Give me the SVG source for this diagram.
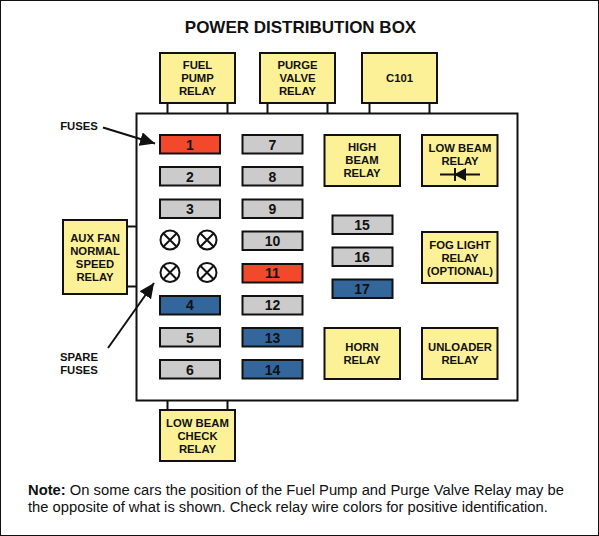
<svg xmlns="http://www.w3.org/2000/svg" width="599" height="536" viewBox="0 0 599 536">
<style>
text{font-family:"Liberation Sans",Arial,sans-serif;font-weight:700;fill:#111;text-anchor:middle}
.t{font-size:11.300px}
.f{font-size:14px}
.r{fill:#fdf198;stroke:#111;stroke-width:2}
.g{fill:#cbcbcb;stroke:#111;stroke-width:2}
.e{fill:#f2492c;stroke:#111;stroke-width:2}
.b{fill:#33669b;stroke:#111;stroke-width:2}
.c{fill:none;stroke:#111;stroke-width:2}
.n{font-size:14.760px;text-anchor:start;font-weight:400}
</style>
<defs>
<marker id="ah" markerUnits="userSpaceOnUse" markerWidth="16" markerHeight="14" refX="15" refY="7" orient="auto"><path d="M0 0L15 7L0 14Z" fill="#111"/></marker>
<g id="x"><circle r="9.500" fill="#fff" stroke="#111" stroke-width="2"/><path d="M-6.700-6.700L6.700 6.700M-6.700 6.700L6.700-6.700" stroke="#111" stroke-width="2"/></g>
</defs>
<rect x="0.500" y="0.500" width="598" height="535" fill="#fff" stroke="#111"/>
<text x="300.500" y="33" style="font-size:17px">POWER DISTRIBUTION BOX</text>
<g id="connectors">
<rect class="c" x="136.500" y="113.500" width="381" height="287"/>
<path class="c" d="M167.500 103V113M227.500 103V113M267.500 103V113M327.500 103V113M369.500 103V113M429.500 103V113M127 226.500H136M127 286.500H136M167.500 401V410M227.500 401V410"/>
<path d="M103 127.500L155 143.500" stroke="#111" stroke-width="2" marker-end="url(#ah)"/>
<path d="M108 348L154 283" stroke="#111" stroke-width="2" marker-end="url(#ah)"/>
</g>
<g id="relay-fuel"><rect class="r" x="160" y="53" width="75" height="50"/><text class="t" x="197.500" y="69">FUEL</text><text class="t" x="197.500" y="82">PUMP</text><text class="t" x="197.500" y="95">RELAY</text></g>
<g id="relay-purge"><rect class="r" x="260" y="53" width="75" height="50"/><text class="t" x="297.500" y="69">PURGE</text><text class="t" x="297.500" y="82">VALVE</text><text class="t" x="297.500" y="95">RELAY</text></g>
<g id="c101"><rect class="r" x="362" y="53" width="75" height="50"/><text class="t" x="399.500" y="82">C101</text></g>
<g id="relay-high"><rect class="r" x="324.500" y="135" width="75.500" height="51"/><text class="t" x="362" y="151">HIGH</text><text class="t" x="362" y="164">BEAM</text><text class="t" x="362" y="177">RELAY</text></g>
<g id="relay-low"><rect class="r" x="422" y="135" width="75.500" height="51"/><text class="t" x="460" y="152">LOW BEAM</text><text class="t" x="460" y="165">RELAY</text><path d="M440 174.500H480" stroke="#111" stroke-width="2"/><path d="M466 168V181L454 174.500Z" fill="#111"/><path d="M455 168V181" stroke="#111" stroke-width="2"/></g>
<g id="relay-fog"><rect class="r" x="422" y="232" width="75.500" height="51"/><text class="t" x="460" y="249">FOG LIGHT</text><text class="t" x="460" y="262">RELAY</text><text class="t" x="460" y="275">(OPTIONAL)</text></g>
<g id="relay-horn"><rect class="r" x="324.500" y="328" width="75.500" height="51"/><text class="t" x="362" y="351">HORN</text><text class="t" x="362" y="364">RELAY</text></g>
<g id="relay-unloader"><rect class="r" x="422" y="328" width="75.500" height="51"/><text class="t" x="460" y="351">UNLOADER</text><text class="t" x="460" y="364">RELAY</text></g>
<g id="relay-aux"><rect class="r" x="63" y="220" width="64" height="74"/><text class="t" x="95" y="242">AUX FAN</text><text class="t" x="95" y="255">NORMAL</text><text class="t" x="95" y="268">SPEED</text><text class="t" x="95" y="281">RELAY</text></g>
<g id="relay-check"><rect class="r" x="160" y="410" width="75" height="51"/><text class="t" x="197.500" y="427">LOW BEAM</text><text class="t" x="197.500" y="440">CHECK</text><text class="t" x="197.500" y="453">RELAY</text></g>
<g id="fuse1"><rect class="e" x="160" y="135" width="60" height="18.500"/><text class="f" x="190" y="149.500">1</text></g>
<g id="fuse2"><rect class="g" x="160" y="167" width="60" height="18.500"/><text class="f" x="190" y="182">2</text></g>
<g id="fuse3"><rect class="g" x="160" y="199.500" width="60" height="18.500"/><text class="f" x="190" y="214">3</text></g>
<g id="fuse4"><rect class="b" x="160" y="296" width="60" height="18.500"/><text class="f" x="190" y="310">4</text></g>
<g id="fuse5"><rect class="g" x="160" y="328" width="60" height="18.500"/><text class="f" x="190" y="342.500">5</text></g>
<g id="fuse6"><rect class="g" x="160" y="360" width="60" height="18.500"/><text class="f" x="190" y="375">6</text></g>
<g id="fuse7"><rect class="g" x="242.500" y="135" width="60" height="18.500"/><text class="f" x="272.500" y="149.500">7</text></g>
<g id="fuse8"><rect class="g" x="242.500" y="167" width="60" height="18.500"/><text class="f" x="272.500" y="182">8</text></g>
<g id="fuse9"><rect class="g" x="242.500" y="199.500" width="60" height="18.500"/><text class="f" x="272.500" y="214">9</text></g>
<g id="fuse10"><rect class="g" x="242.500" y="231.500" width="60" height="18.500"/><text class="f" x="272.500" y="246">10</text></g>
<g id="fuse11"><rect class="e" x="242.500" y="264" width="60" height="18.500"/><text class="f" x="272.500" y="278">11</text></g>
<g id="fuse12"><rect class="g" x="242.500" y="296" width="60" height="18.500"/><text class="f" x="272.500" y="310">12</text></g>
<g id="fuse13"><rect class="b" x="242.500" y="328" width="60" height="18.500"/><text class="f" x="272.500" y="342.500">13</text></g>
<g id="fuse14"><rect class="b" x="242.500" y="360" width="60" height="18.500"/><text class="f" x="272.500" y="375">14</text></g>
<g id="fuse15"><rect class="g" x="332.500" y="215.500" width="60" height="18.500"/><text class="f" x="362" y="230">15</text></g>
<g id="fuse16"><rect class="g" x="332.500" y="247.500" width="60" height="18.500"/><text class="f" x="362" y="262">16</text></g>
<g id="fuse17"><rect class="b" x="332.500" y="279.500" width="60" height="18.500"/><text class="f" x="362" y="294">17</text></g>
<g id="spare1"><use href="#x" x="170" y="240"/></g>
<g id="spare2"><use href="#x" x="207" y="240"/></g>
<g id="spare3"><use href="#x" x="170" y="272.500"/></g>
<g id="spare4"><use href="#x" x="207" y="272.500"/></g>
<g id="label-fuses"><text class="t" x="79" y="130">FUSES</text></g>
<g id="label-spare"><text class="t" x="79" y="361">SPARE</text><text class="t" x="79" y="374">FUSES</text></g>
<g id="note"><text class="n" x="28" y="495"><tspan font-weight="700">Note:</tspan> On some cars the position of the Fuel Pump and Purge Valve Relay may be</text><text class="n" x="28" y="512">the opposite of what is shown. Check relay wire colors for positive identification.</text></g>
</svg>
